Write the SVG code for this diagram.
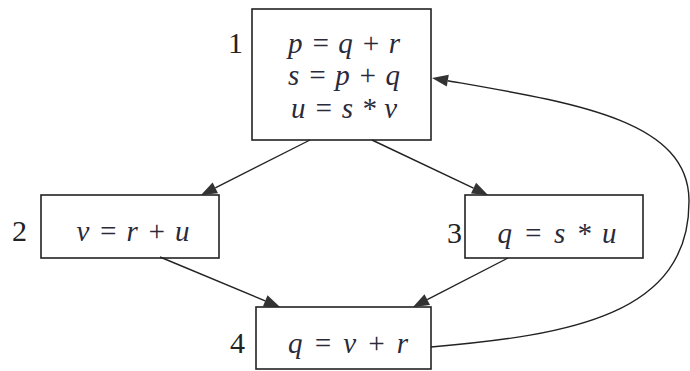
<svg xmlns="http://www.w3.org/2000/svg" width="690" height="371" viewBox="0 0 690 371">
<style>
.box{fill:none;stroke:#222;stroke-width:1.6}
.e{fill:none;stroke:#222;stroke-width:1.4}
.ah{fill:#333;stroke:none}
</style>
<rect width="690" height="371" fill="#fff"/>
<g id="edges">
<line class="e" x1="310" y1="140" x2="215.3" y2="187.8"/>
<polygon class="ah" points="201,195 212.6,182.4 218,193.2"/>
<line class="e" x1="372" y1="140" x2="473.5" y2="188.2"/>
<polygon class="ah" points="488,195 471,193.6 476.1,182.7"/>
<line class="e" x1="160" y1="257" x2="265.2" y2="300.9"/>
<polygon class="ah" points="280,307 262.9,306.4 267.5,295.3"/>
<line class="e" x1="508" y1="258" x2="427.2" y2="299.7"/>
<polygon class="ah" points="413,307 424.5,294.3 430,305"/>
<path class="e" d="M431,347 C570,335 690,315 689,200 C688,120 575,103 447.8,80.7"/>
<polygon class="ah" points="432,78 448.8,74.8 446.8,86.6"/>
</g>
<g id="block1">
<rect class="box" x="252" y="9" width="179" height="131"/>
<text style="font-family:'Liberation Serif','Times New Roman','DejaVu Serif',serif !important;font-size:30px" fill="#222" text-anchor="end" x="243" y="53">1</text>
<text style="font-family:'Liberation Serif','Times New Roman','DejaVu Serif',serif !important;font-size:29px;font-style:italic" fill="#2a2a3a" text-anchor="middle" x="344" y="53" textLength="112" lengthAdjust="spacing">p = q + r</text>
<text style="font-family:'Liberation Serif','Times New Roman','DejaVu Serif',serif !important;font-size:29px;font-style:italic" fill="#2a2a3a" text-anchor="middle" x="344" y="85" textLength="112" lengthAdjust="spacing">s = p + q</text>
<text style="font-family:'Liberation Serif','Times New Roman','DejaVu Serif',serif !important;font-size:29px;font-style:italic" fill="#2a2a3a" text-anchor="middle" x="344" y="118" textLength="106" lengthAdjust="spacing">u = s * v</text>
</g>
<g id="block2">
<rect class="box" x="41" y="195" width="178" height="63"/>
<text style="font-family:'Liberation Serif','Times New Roman','DejaVu Serif',serif !important;font-size:30px" fill="#222" text-anchor="end" x="27" y="241">2</text>
<text style="font-family:'Liberation Serif','Times New Roman','DejaVu Serif',serif !important;font-size:29px;font-style:italic" fill="#2a2a3a" text-anchor="middle" x="133" y="241" textLength="113" lengthAdjust="spacing">v = r + u</text>
</g>
<g id="block3">
<rect class="box" x="465" y="195" width="178" height="63"/>
<text style="font-family:'Liberation Serif','Times New Roman','DejaVu Serif',serif !important;font-size:30px" fill="#222" text-anchor="end" x="462" y="243">3</text>
<text style="font-family:'Liberation Serif','Times New Roman','DejaVu Serif',serif !important;font-size:29px;font-style:italic" fill="#2a2a3a" text-anchor="middle" x="557" y="243" textLength="119" lengthAdjust="spacing">q = s * u</text>
</g>
<g id="block4">
<rect class="box" x="256" y="307" width="175" height="62"/>
<text style="font-family:'Liberation Serif','Times New Roman','DejaVu Serif',serif !important;font-size:30px" fill="#222" text-anchor="end" x="245" y="353">4</text>
<text style="font-family:'Liberation Serif','Times New Roman','DejaVu Serif',serif !important;font-size:29px;font-style:italic" fill="#2a2a3a" text-anchor="middle" x="348" y="353" textLength="120" lengthAdjust="spacing">q = v + r</text>
</g>
</svg>
